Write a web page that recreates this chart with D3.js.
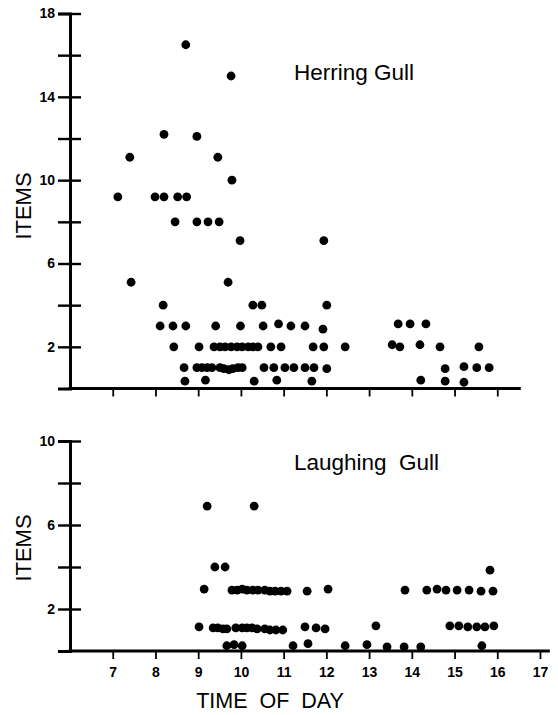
<!DOCTYPE html>
<html>
<head>
<meta charset="utf-8">
<script src="https://cdn.jsdelivr.net/npm/d3@7"></script>
<style>
  body { margin: 0; background: #fff; }
  svg { display: block; }
  text { font-family: "Liberation Sans", Arial, Helvetica, sans-serif; fill: #000; }
</style>
</head>
<body>
<svg id="chart" width="558" height="715"></svg>
<script>
// Herring Gull: time of day (h) and items
const herringTime = [
  8.71, 9.77, 8.20, 8.97, 7.40, 9.46, 9.79,
  7.12, 7.99, 8.20, 8.52, 8.73,
  8.46, 8.97, 9.23, 9.49,
  9.98, 11.94, 7.43, 9.70,
  8.18, 10.28, 10.49, 12.01,
  8.11, 8.41, 8.71, 9.41, 9.99, 10.52, 10.88, 11.17, 11.50, 11.92, 13.68, 13.96, 14.33,
  8.43, 9.02, 9.37, 9.51, 9.63, 9.77, 9.91, 10.03, 10.17, 10.28, 10.40, 10.70, 10.94,
  11.69, 11.94, 12.44, 13.54, 13.72, 14.19, 14.66, 15.57,
  8.67, 8.97, 9.09, 9.21, 9.32, 9.51, 9.60, 9.72, 9.81, 9.93, 10.03, 10.54, 10.77,
  11.03, 11.24, 11.50, 11.71, 12.01, 14.78, 15.22, 15.52, 15.81,
  8.69, 9.17, 10.31, 10.84, 11.66, 14.21, 14.78, 15.22
];
const herringItems = [
  16.5, 15.0, 12.2, 12.1, 11.1, 11.1, 10.0,
  9.2, 9.2, 9.2, 9.2, 9.2,
  8.0, 8.0, 8.0, 8.0,
  7.1, 7.1, 5.1, 5.1,
  4.0, 4.0, 4.0, 4.0,
  3.0, 3.0, 3.0, 3.0, 3.0, 3.0, 3.1, 3.0, 3.0, 2.85, 3.1, 3.1, 3.1,
  2.0, 2.0, 2.0, 2.0, 2.0, 2.0, 2.0, 2.0, 2.0, 2.0, 2.0, 2.0, 2.0,
  2.0, 2.0, 2.0, 2.1, 2.0, 2.1, 2.0, 2.0,
  1.0, 1.0, 1.0, 1.0, 1.0, 1.0, 0.95, 0.9, 0.95, 1.0, 1.0, 1.0, 1.0,
  1.0, 1.0, 1.0, 1.0, 0.95, 0.95, 1.05, 1.0, 1.0,
  0.35, 0.4, 0.35, 0.4, 0.35, 0.4, 0.35, 0.3
];

// Laughing Gull: time of day (h) and items
const laughingTime = [
  9.21, 10.31, 9.39, 9.63, 15.83,
  9.14, 9.79, 9.91, 10.03, 10.14, 10.28, 10.40, 10.56, 10.68, 10.80, 10.94, 11.08,
  11.55, 12.04, 13.84, 14.35, 14.59, 14.80, 15.06, 15.34, 15.62, 15.90,
  9.02, 9.35, 9.46, 9.58, 9.67, 9.88, 10.03, 10.14, 10.26, 10.38, 10.56, 10.68, 10.82, 10.98,
  11.50, 11.76, 11.97, 13.16, 14.89, 15.10, 15.31, 15.52, 15.71, 15.92,
  9.67, 9.84, 10.03, 11.22, 11.57, 12.44, 12.95, 13.42, 13.82, 14.21, 15.64
];
const laughingItems = [
  6.9, 6.9, 4.0, 4.0, 3.85,
  2.95, 2.9, 2.9, 2.95, 2.9, 2.9, 2.9, 2.9, 2.85, 2.85, 2.85, 2.85,
  2.85, 2.95, 2.9, 2.9, 2.95, 2.9, 2.9, 2.9, 2.85, 2.85,
  1.15, 1.1, 1.1, 1.05, 1.05, 1.1, 1.1, 1.1, 1.1, 1.05, 1.05, 1.0, 1.0, 1.0,
  1.15, 1.1, 1.05, 1.2, 1.2, 1.2, 1.15, 1.15, 1.15, 1.2,
  0.25, 0.3, 0.25, 0.25, 0.35, 0.25, 0.3, 0.2, 0.2, 0.2, 0.25
];

const hourTicks = [7, 8, 9, 10, 11, 12, 13, 14, 15, 16, 17];
const herringTicks = [2, 4, 6, 8, 10, 12, 14, 16, 18];
const laughingTicks = [2, 4, 6, 8, 10];

const svg = d3.select("#chart");

const x = d3.scaleLinear().domain([6, 17]).range([70, 540]);
const yTop = d3.scaleLinear().domain([0, 18]).range([388.5, 13.5]);
const yBot = d3.scaleLinear().domain([0, 10]).range([651, 441]);

function styleLabels(g) {
  g.selectAll(".tick text")
    .attr("font-family", "'Liberation Sans', Arial, sans-serif")
    .attr("font-weight", "bold")
    .attr("font-size", 14);
}

function yAxis(scale, ticks) {
  const g = svg.append("g")
    .attr("transform", "translate(" + x(6) + ",0)")
    .call(d3.axisLeft(scale)
      .tickValues(ticks)
      .tickSizeOuter(0)
      .tickSize(12)
      .tickPadding(3)
      .tickFormat(d => d % 4 === 2 ? d : ""));
  g.select(".domain").attr("stroke-width", 3);
  g.selectAll(".tick line").attr("x2", 11).attr("x1", -12).attr("stroke-width", 2.4);
  styleLabels(g);
}

function xAxis(yScale, ticks, end, labels) {
  const g = svg.append("g")
    .attr("transform", "translate(0," + yScale(0) + ")")
    .call(d3.axisBottom(x)
      .tickValues(ticks)
      .tickSize(8)
      .tickPadding(8)
      .tickFormat(labels ? d => d : ""));
  g.select(".domain").remove();
  g.selectAll(".tick line").attr("stroke-width", 1.8);
  g.append("line")
    .attr("x1", x(6) - 1.5).attr("x2", x(end))
    .attr("stroke", "#000").attr("stroke-width", 3);
  styleLabels(g);
}

function dots(times, items, yScale) {
  svg.append("g").selectAll("circle")
    .data(times)
    .enter().append("circle")
    .attr("cx", d => x(d))
    .attr("cy", (d, i) => yScale(items[i]))
    .attr("r", 4.4)
    .attr("fill", "#000");
}

// Herring Gull panel
xAxis(yTop, hourTicks.slice(0, 10), 16.55, false);
yAxis(yTop, herringTicks);
dots(herringTime, herringItems, yTop);

// Laughing Gull panel
xAxis(yBot, hourTicks, 17.23, true);
yAxis(yBot, laughingTicks);
dots(laughingTime, laughingItems, yBot);

svg.append("text")
  .attr("transform", "translate(31,206) rotate(-90)")
  .attr("text-anchor", "middle")
  .attr("font-size", 22)
  .text("ITEMS");

svg.append("text")
  .attr("transform", "translate(31,548) rotate(-90)")
  .attr("text-anchor", "middle")
  .attr("font-size", 22)
  .text("ITEMS");

svg.append("text")
  .attr("x", 294).attr("y", 80)
  .attr("font-size", 22.5)
  .text("Herring Gull");

svg.append("text")
  .attr("x", 294).attr("y", 470)
  .attr("font-size", 22.5)
  .style("white-space", "pre")
  .text("Laughing  Gull");

svg.append("text")
  .attr("x", 270).attr("y", 708)
  .attr("text-anchor", "middle")
  .attr("font-size", 21.5)
  .style("white-space", "pre")
  .text("TIME  OF  DAY");
</script>
</body>
</html>
